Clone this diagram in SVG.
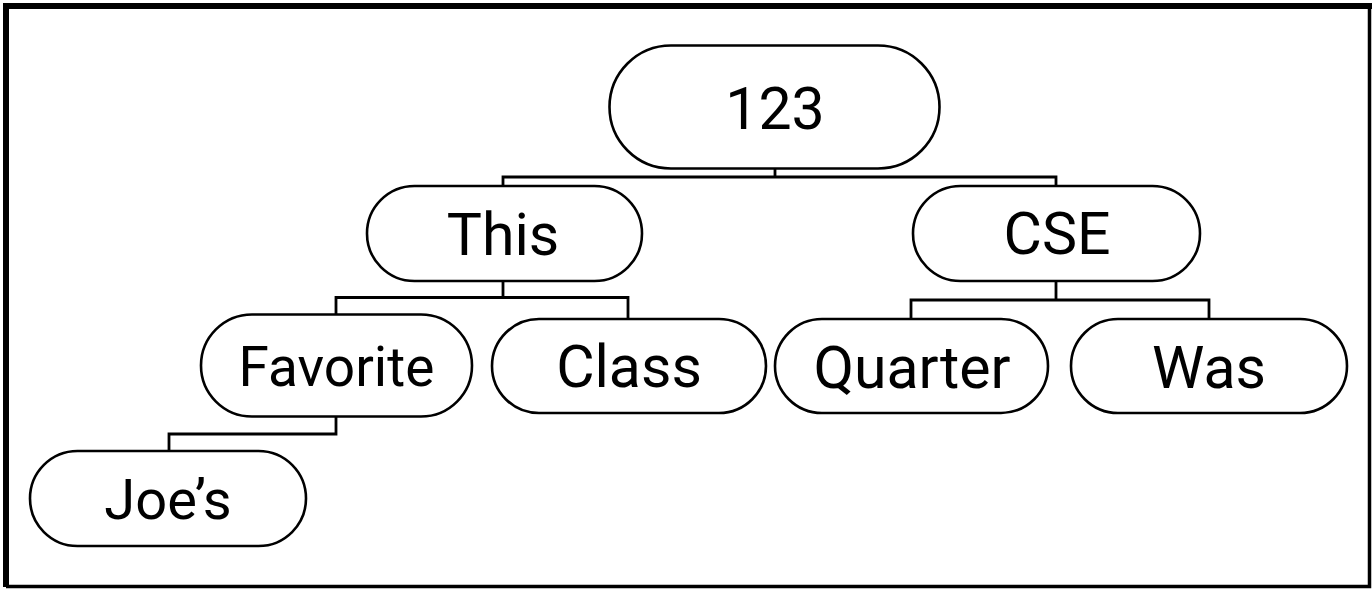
<svg xmlns="http://www.w3.org/2000/svg" width="1372" height="589" viewBox="0 0 1372 589">
<style>
.n{fill:#fff;stroke:#000;stroke-width:2.6}
.t{font-family:Roboto,"Liberation Sans",sans-serif;font-size:59px;fill:#000;text-anchor:middle}
.c{fill:none;stroke:#000;stroke-width:2.8}
</style>
<rect x="0" y="0" width="1372" height="589" fill="#fff"/>
<path d="M6 587V6H1372" fill="none" stroke="#000" stroke-width="6"/>
<path d="M6 586.5H1369.5V3" fill="none" stroke="#000" stroke-width="3.5"/>
<g id="connectors">
<path class="c" d="M775 169V177M503 186V177H1056V186"/>
<path class="c" d="M503 281V297.5M336 314.5V297.5H628V319"/>
<path class="c" d="M1056 281V300M911 319V300H1209V319"/>
<path class="c" d="M336 416.5V434H169V451"/>
</g>
<g id="n123"><rect class="n" x="609.5" y="45.5" width="330" height="123" rx="61.5"/><text class="t" x="775" y="129">123</text></g>
<g id="nThis"><rect class="n" x="367" y="186" width="275" height="95" rx="47.5"/><text class="t" x="503" y="255">This</text></g>
<g id="nCSE"><rect class="n" x="913" y="186" width="287" height="95" rx="47.5"/><text class="t" x="1057" y="254">CSE</text></g>
<g id="nFavorite"><rect class="n" x="201" y="314.5" width="271" height="102" rx="51"/><text class="t" x="336.5" y="386" style="font-size:55px">Favorite</text></g>
<g id="nClass"><rect class="n" x="492" y="319" width="274" height="94" rx="47"/><text class="t" x="629" y="387">Class</text></g>
<g id="nQuarter"><rect class="n" x="775" y="319" width="273" height="94" rx="47"/><text class="t" x="912" y="388">Quarter</text></g>
<g id="nWas"><rect class="n" x="1071" y="319" width="276" height="94" rx="47"/><text class="t" x="1209" y="388">Was</text></g>
<g id="nJoes"><rect class="n" x="30" y="451" width="276" height="95" rx="47.5"/><text class="t" x="168" y="519" style="font-size:56px">Joe’s</text></g>
</svg>
